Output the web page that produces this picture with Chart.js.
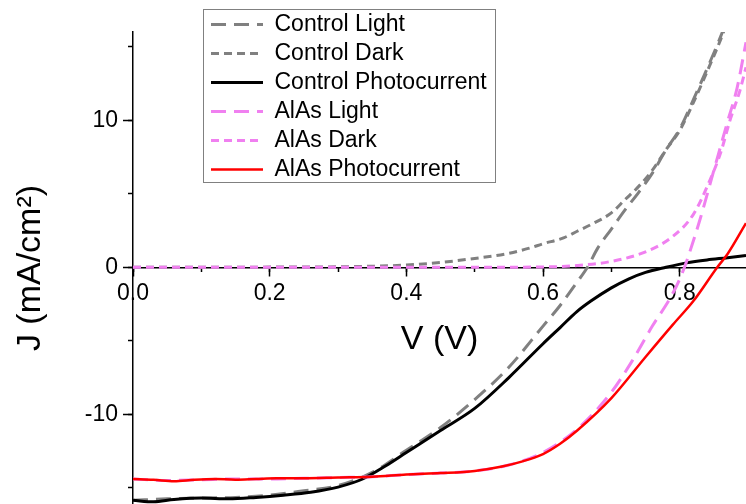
<!DOCTYPE html>
<html>
<head>
<meta charset="utf-8">
<script src="https://cdn.jsdelivr.net/npm/chart.js@4.4.0/dist/chart.umd.min.js"></script>
<style>
body { margin: 0; background: #fff; }
#chart { display: block; }
</style>
</head>
<body>
<canvas id="chart" width="746" height="504"></canvas>
<script>
// series (V in volts, J in mA/cm2)
let ctrlLightV = [0, 0.05, 0.1, 0.15, 0.2, 0.25, 0.3, 0.35, 0.4, 0.45, 0.5, 0.55, 0.6, 0.625, 0.65, 0.665, 0.68, 0.7, 0.72, 0.74, 0.76, 0.78, 0.8, 0.82, 0.84, 0.86, 0.88]
let ctrlLightJ = [-15.85, -15.75, -15.7, -15.65, -15.5, -15.2, -14.85, -13.95, -12.45, -10.9, -9.0, -6.8, -4.0, -2.6, -1.0, 0, 1.3, 2.6, 3.9, 5.1, 6.4, 8.0, 9.4, 11.4, 13.5, 15.7, 18.2]

let ctrlDarkV = [0, 0.1, 0.2, 0.3, 0.35, 0.4, 0.45, 0.5, 0.55, 0.58, 0.6, 0.63, 0.65, 0.67, 0.7, 0.72, 0.74, 0.76, 0.78, 0.8, 0.82, 0.84, 0.86, 0.88]
let ctrlDarkJ = [0, 0, 0.01, 0.03, 0.07, 0.15, 0.33, 0.6, 0.95, 1.3, 1.6, 2.0, 2.45, 2.9, 3.7, 4.6, 5.5, 6.6, 8.0, 9.3, 11.2, 13.3, 15.5, 18.0]

let ctrlPhotoV = [0, 0.03, 0.06, 0.1, 0.14, 0.18, 0.22, 0.26, 0.3, 0.336, 0.37, 0.4, 0.45, 0.5, 0.55, 0.6, 0.625, 0.65, 0.67, 0.7, 0.725, 0.75, 0.78, 0.81, 0.84, 0.87, 0.897]
let ctrlPhotoJ = [-15.85, -15.95, -15.8, -15.7, -15.75, -15.65, -15.5, -15.3, -14.95, -14.4, -13.5, -12.6, -11.1, -9.6, -7.5, -5.2, -4.1, -3.0, -2.3, -1.4, -0.8, -0.35, 0, 0.3, 0.5, 0.65, 0.8]

let alasLightV = [0, 0.05, 0.1, 0.15, 0.2, 0.25, 0.3, 0.35, 0.4, 0.45, 0.5, 0.55, 0.6, 0.65, 0.7, 0.73, 0.76, 0.786, 0.8, 0.81, 0.83, 0.85, 0.87, 0.884, 0.897]
let alasLightJ = [-14.4, -14.5, -14.45, -14.4, -14.4, -14.35, -14.3, -14.25, -14.1, -14.0, -13.85, -13.45, -12.6, -11.0, -8.5, -6.4, -4.0, -2.1, -0.8, 0.4, 3.3, 6.6, 9.9, 12.2, 15.3]

let alasDarkV = [0, 0.1, 0.2, 0.3, 0.4, 0.5, 0.6, 0.65, 0.7, 0.75, 0.79, 0.82, 0.844, 0.86, 0.873, 0.888, 0.897]
let alasDarkJ = [0, 0, 0, 0, 0, 0, 0.02, 0.12, 0.4, 1.05, 2.1, 3.6, 5.9, 7.8, 9.9, 12.0, 13.6]

let alasPhotoV = [0, 0.03, 0.06, 0.09, 0.12, 0.15, 0.18, 0.21, 0.25, 0.3, 0.35, 0.4, 0.45, 0.5, 0.54, 0.57, 0.6, 0.625, 0.65, 0.7, 0.75, 0.79, 0.82, 0.855, 0.87, 0.897]
let alasPhotoJ = [-14.4, -14.45, -14.55, -14.45, -14.4, -14.45, -14.4, -14.35, -14.35, -14.3, -14.25, -14.1, -14.0, -13.85, -13.55, -13.2, -12.7, -12.0, -11.1, -8.9, -6.1, -3.9, -2.3, 0, 0.9, 3.0]

let seriesNames = ["Control Light", "Control Dark", "Control Photocurrent", "AlAs Light", "AlAs Dark", "AlAs Photocurrent"]

let vMin = 0, vMax = 0.897
let jMin = -16.1, jMax = 16

let toPoints = (vs, js) => vs.map((v, i) => ({x: v, y: js[i]}))

Chart.defaults.font.family = "'Liberation Sans', Arial, sans-serif"
Chart.defaults.color = '#000'

//lineStyles
let gray = '#808080'
let pink = '#f080f0'
let red = '#ff0000'
let longDash = [15, 8]
let shortDash = [8, 5]

let makeSet = (i, vs, js, color, dash, width) => ({
    label: seriesNames[i],
    data: toPoints(vs, js),
    borderColor: color,
    backgroundColor: color,
    borderWidth: width,
    borderDash: dash,
    pointRadius: 0,
    cubicInterpolationMode: 'monotone',
    fill: false,
    order: seriesNames.length - i
})

let datasets = [
    makeSet(0, ctrlLightV, ctrlLightJ, gray, longDash, 3),
    makeSet(1, ctrlDarkV, ctrlDarkJ, gray, shortDash, 3),
    makeSet(2, ctrlPhotoV, ctrlPhotoJ, '#000', [], 3),
    makeSet(3, alasLightV, alasLightJ, pink, longDash, 3),
    makeSet(4, alasDarkV, alasDarkJ, pink, shortDash, 3),
    makeSet(5, alasPhotoV, alasPhotoJ, red, [], 2.5)
]

//legendInsidePlot
let legendFrame = {
    id: 'legendFrame',
    afterLayout: (chart) => {
        chart.legend.left = 205
        chart.legend.top = 7
    },
    afterDraw: (chart) => {
        let ctx = chart.ctx
        ctx.save()
        ctx.strokeStyle = '#808080'
        ctx.lineWidth = 1
        ctx.strokeRect(203.5, 9.5, 292, 173)
        ctx.restore()
    }
}

let legendItems = (chart) => {
    let items = Chart.defaults.plugins.legend.labels.generateLabels(chart)
    return items.map(item => {
        let ds = chart.data.datasets[item.datasetIndex]
        item.lineDash = ds.borderDash
        item.lineWidth = ds.borderWidth
        item.strokeStyle = ds.borderColor
        return item
    })
}

let tickGrid = (len) => ({drawOnChartArea: false, tickLength: len, tickColor: '#000', tickWidth: 1.5})
let noPad = (scale) => {
    scale.paddingTop = 0
    scale.paddingBottom = 0
    scale.paddingLeft = 0
    scale.paddingRight = 0
}

let chart = new Chart("chart", {
    type: 'line',
    data: {datasets: datasets},
    plugins: [legendFrame],
    options: {
        responsive: false,
        animation: false,
        devicePixelRatio: 1,
        layout: {padding: {top: 32, left: 0, right: 0, bottom: 0}},
        plugins: {
            tooltip: {enabled: false},
            legend: {
                position: 'chartArea',
                align: 'start',
                labels: {
                    usePointStyle: true,
                    pointStyle: 'line',
                    pointStyleWidth: 52,
                    padding: 6,
                    font: {size: 23},
                    color: '#000',
                    generateLabels: legendItems,
                    sort: (a, b) => a.datasetIndex - b.datasetIndex
                }
            }
        },
        scales: {
            x: {
                type: 'linear',
                min: vMin,
                max: vMax,
                position: {y: 0},
                afterFit: (scale) => { scale.height = 0; noPad(scale) },
                border: {color: '#000', width: 1.5},
                grid: tickGrid(8),
                ticks: {
                    stepSize: 0.2,
                    includeBounds: false,
                    autoSkip: false,
                    maxRotation: 0,
                    padding: 5,
                    font: {size: 23},
                    callback: (v) => Number(v).toFixed(1)
                },
                title: {display: true, text: 'V (V)', font: {size: 34}, padding: {top: 0, bottom: -93}}
            },
            xMinor: {
                type: 'linear',
                axis: 'x',
                min: vMin,
                max: vMax,
                position: {y: 0},
                afterFit: (scale) => { scale.height = 0; noPad(scale) },
                border: {display: false},
                grid: tickGrid(5),
                ticks: {display: false, stepSize: 0.1, includeBounds: false, autoSkip: false}
            },
            y: {
                type: 'linear',
                min: jMin,
                max: jMax,
                position: 'left',
                afterFit: (scale) => { scale.width = 133; noPad(scale) },
                border: {color: '#000', width: 1.5},
                grid: tickGrid(10),
                ticks: {stepSize: 10, includeBounds: false, padding: 5, font: {size: 23}},
                title: {display: true, text: 'J (mA/cm²)', font: {size: 34}, padding: {top: 10, bottom: 0}}
            },
            yMinor: {
                type: 'linear',
                axis: 'y',
                min: jMin,
                max: jMax,
                position: {x: 0},
                afterFit: (scale) => { scale.width = 0; noPad(scale) },
                border: {display: false},
                grid: tickGrid(5),
                ticks: {display: false, stepSize: 5, includeBounds: false, autoSkip: false}
            }
        }
    }
})
</script>
</body>
</html>
